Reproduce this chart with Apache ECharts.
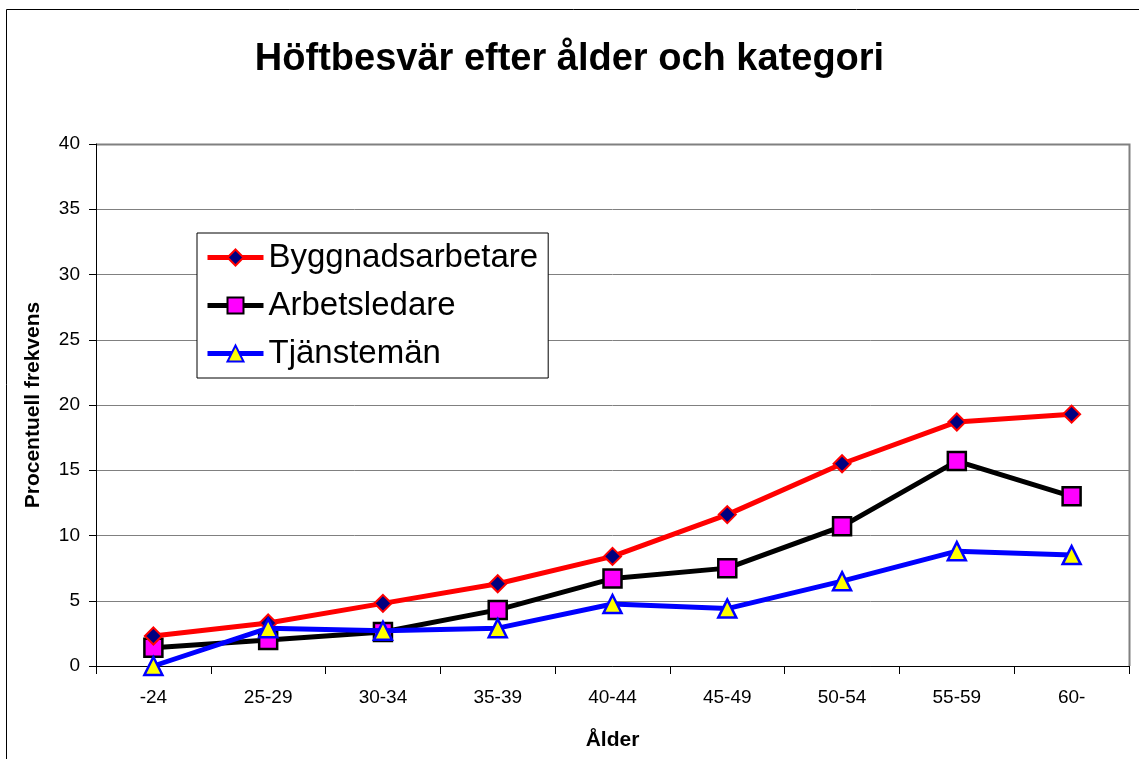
<!DOCTYPE html>
<html>
<head>
<meta charset="utf-8">
<script src="https://cdn.jsdelivr.net/npm/echarts@6/dist/echarts.min.js"></script>
<style>
  html, body { margin: 0; padding: 0; background: #fff; }
  #chart { width: 1139px; height: 759px; }
</style>
</head>
<body>
<div id="chart"></div>
<script>
const ageGroups = ['-24', '25-29', '30-34', '35-39', '40-44', '45-49', '50-54', '55-59', '60-'];
const byggnadsarbetare = [2.3, 3.3, 4.8, 6.3, 8.4, 11.6, 15.5, 18.7, 19.3];
const arbetsledare = [1.4, 2.0, 2.6, 4.3, 6.7, 7.5, 10.7, 15.7, 13.0];
const tjansteman = [0.0, 2.9, 2.7, 2.9, 4.75, 4.4, 6.5, 8.8, 8.5];

const font = 'Liberation Sans, Arial, sans-serif';
const chart = echarts.init(document.getElementById('chart'));

// grid edges in px
const gridLeft = 96, gridRight = 1129, gridTop = 144, gridBottom = 666;

chart.setOption({
  animation: false,
  backgroundColor: '#fff',
  textStyle: { fontFamily: font },
  title: {
    text: 'Höftbesvär efter ålder och kategori',
    left: 'center',
    top: 36,
    textStyle: { fontFamily: font, fontSize: 38, fontWeight: 'bold', color: '#000' }
  },
  graphic: [
    {
      type: 'rect',
      shape: { x: 6.5, y: 9.5, width: 1140, height: 760 },
      style: { fill: 'none', stroke: '#000', lineWidth: 1 },
      silent: true
    },
    {
      type: 'polyline',
      shape: { points: [[gridLeft, gridTop + 0.5], [gridRight + 0.5, gridTop + 0.5], [gridRight + 0.5, gridBottom]] },
      style: { fill: 'none', stroke: '#808080', lineWidth: 2 },
      silent: true,
      z: 0
    }
  ],
  legend: {
    orient: 'vertical',
    left: 197,
    top: 233,
    padding: [8, 10, 8, 8],
    itemGap: 15,
    itemWidth: 56,
    itemHeight: 20,
    borderColor: '#000',
    borderWidth: 1,
    backgroundColor: '#fff',
    textStyle: { fontFamily: font, fontSize: 33, color: '#000' },
    data: [
      { name: 'Byggnadsarbetare', lineStyle: { width: 5 } },
      { name: 'Arbetsledare', lineStyle: { width: 5 } },
      { name: 'Tjänstemän', lineStyle: { width: 5 } }
    ]
  },
  grid: { left: gridLeft, right: 1139 - gridRight, top: gridTop, bottom: 759 - gridBottom },
  xAxis: {
    type: 'category',
    data: ageGroups,
    boundaryGap: true,
    axisLine: { lineStyle: { color: '#000', width: 1 } },
    axisTick: { show: true, inside: false, length: 8, lineStyle: { color: '#000' } },
    axisLabel: { fontFamily: font, fontSize: 19, color: '#000', margin: 22 },
    name: 'Ålder',
    nameLocation: 'middle',
    nameGap: 64,
    nameTextStyle: { fontFamily: font, fontSize: 21, fontWeight: 'bold', color: '#000' }
  },
  yAxis: {
    type: 'value',
    min: 0,
    max: 40,
    interval: 5,
    axisLine: { show: true, lineStyle: { color: '#000', width: 1 } },
    axisTick: { show: true, length: 7, lineStyle: { color: '#000' } },
    axisLabel: { fontFamily: font, fontSize: 19, color: '#000', margin: 16 },
    splitLine: { show: true, lineStyle: { color: '#808080', width: 1 } },
    name: 'Procentuell frekvens',
    nameLocation: 'middle',
    nameGap: 52,
    nameTextStyle: { fontFamily: font, fontSize: 21, fontWeight: 'bold', color: '#000' }
  },
  series: [
    {
      name: 'Byggnadsarbetare',
      type: 'line',
      data: byggnadsarbetare,
      symbol: 'diamond',
      symbolSize: 17,
      lineStyle: { color: '#ff0000', width: 5 },
      itemStyle: { color: '#000080', borderColor: '#ff0000', borderWidth: 2 },
      z: 3
    },
    {
      name: 'Arbetsledare',
      type: 'line',
      data: arbetsledare,
      symbol: 'rect',
      symbolSize: 18,
      lineStyle: { color: '#000', width: 5 },
      itemStyle: { color: '#ff00ff', borderColor: '#000', borderWidth: 2.5 },
      z: 2
    },
    {
      name: 'Tjänstemän',
      type: 'line',
      data: tjansteman,
      symbol: 'triangle',
      symbolSize: 18,
      lineStyle: { color: '#0000ff', width: 5 },
      itemStyle: { color: '#ffff00', borderColor: '#0000ff', borderWidth: 2.5 },
      z: 4
    }
  ]
});

window.addEventListener('resize', () => chart.resize());
</script>
</body>
</html>
